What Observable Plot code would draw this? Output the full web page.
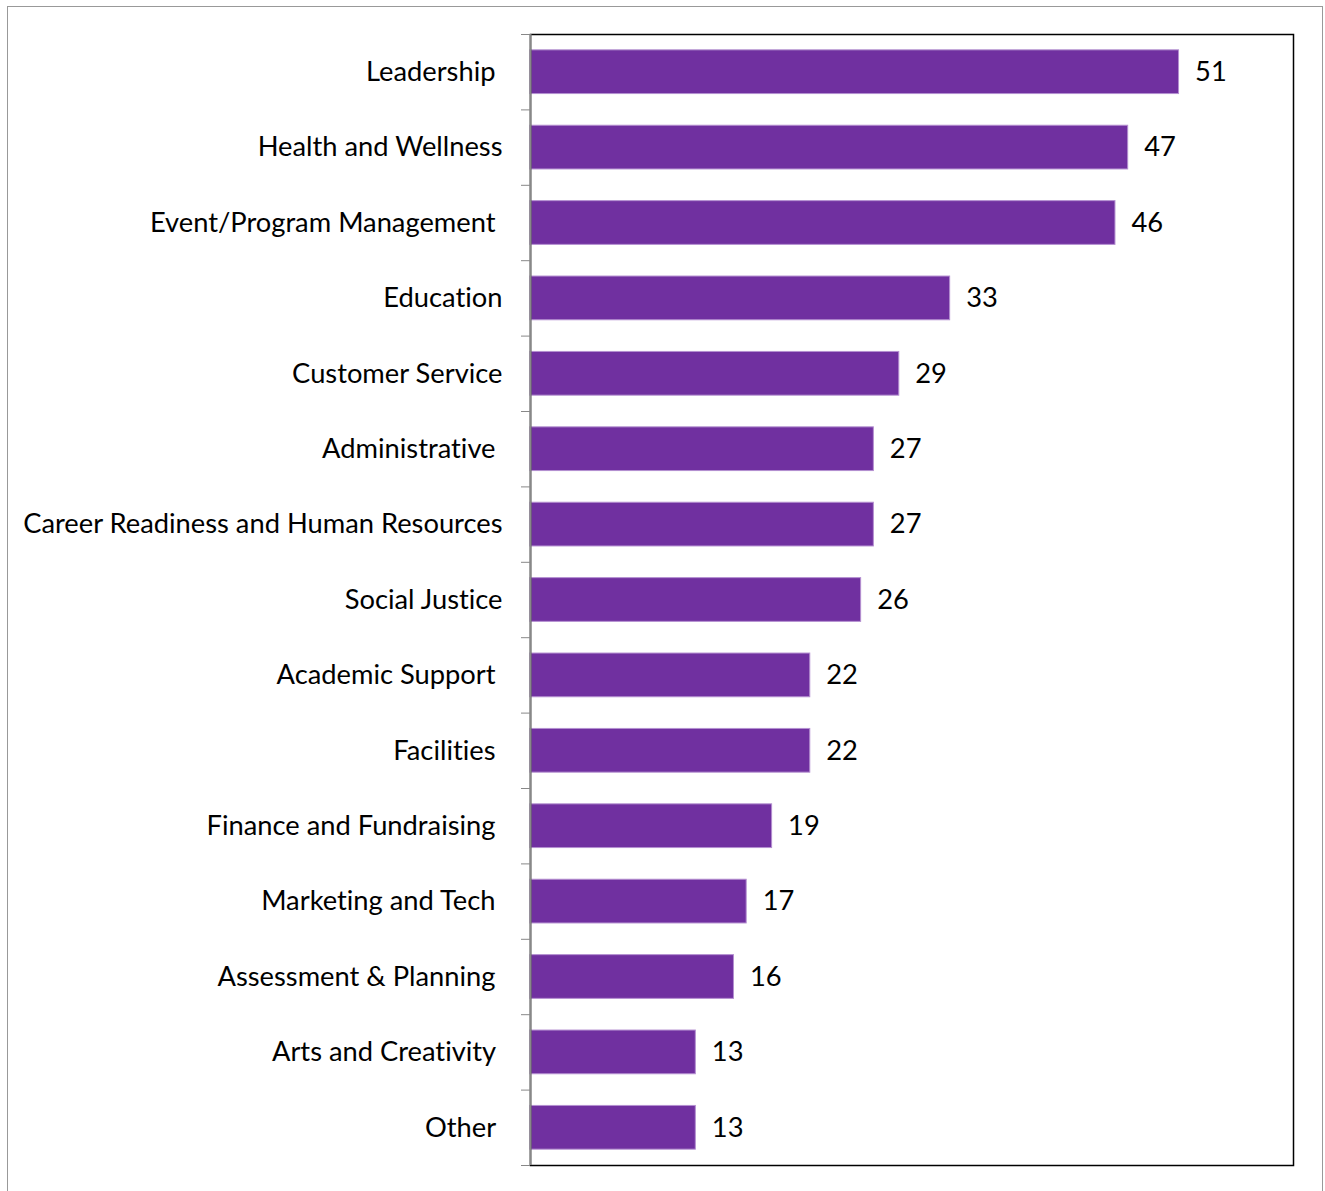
<!DOCTYPE html>
<html>
<head>
<meta charset="utf-8">
<script src="https://cdn.jsdelivr.net/npm/d3@7"></script>
<script src="https://cdn.jsdelivr.net/npm/@observablehq/plot@0.6"></script>
<style>
  body { margin: 0; background: #fff; }
  #chart svg { display: block; font-variant-ligatures: none; }
  #chart svg text { font-variant-ligatures: none; }
</style>
</head>
<body>
<div id="chart"></div>
<script>
const categories = [
  "Leadership ", "Health and Wellness", "Event/Program Management ", "Education",
  "Customer Service", "Administrative ", "Career Readiness and Human Resources",
  "Social Justice", "Academic Support ", "Facilities ", "Finance and Fundraising ",
  "Marketing and Tech ", "Assessment & Planning ", "Arts and Creativity ", "Other "
];
const values = [51, 47, 46, 33, 29, 27, 27, 26, 22, 22, 19, 17, 16, 13, 13];
const xDomain = [0, 60];

const data = categories.map((c, i) => ({category: c, value: values[i]}));

const W = 1325, H = 1191;
const mL = 530, mR = 32, mT = 34, mB = 26;
const step = (H - mT - mB) / categories.length;
const font = "Lato, 'Open Sans', sans-serif";
const fs = 27.3;

const chart = Plot.plot({
  width: W, height: H,
  marginLeft: mL, marginRight: mR, marginTop: mT, marginBottom: mB,
  style: {fontFamily: font, fontSize: fs + "px", color: "#000", background: "#fff"},
  x: {domain: xDomain, axis: null},
  y: {domain: categories, paddingInner: 0.42, paddingOuter: 0.21, round: false, axis: null},
  marks: [
    Plot.frame({stroke: "#999", insetLeft: -(mL - 7), insetTop: -(mT - 6), insetRight: -(mR - 3), insetBottom: -(mB + 10)}),
    Plot.barX(data, {y: "category", x: "value", fill: "#7030A0", stroke: "#b48fd0", strokeWidth: 1}),
    Plot.frame({stroke: "#000", strokeWidth: 1.5}),
    Plot.ruleX([0], {stroke: "#888", strokeWidth: 2}),
    Plot.axisY(categories, {tickSize: 9, tickFormat: () => "", stroke: "#888", label: null, dy: -step / 2}),
    Plot.axisY(categories.slice(-1), {tickSize: 9, tickFormat: () => "", stroke: "#888", label: null, dy: step / 2}),
    Plot.axisY(categories, {tickSize: 0, tickPadding: 28, label: null, fontSize: fs, fill: "#000",
      tickFormat: d => d.replace(/ $/, "\u00A0")}),
    Plot.text(data, {y: "category", x: "value", text: d => String(d.value), textAnchor: "start", dx: 16, fontSize: fs, fill: "#000"})
  ]
});
document.getElementById("chart").appendChild(chart);
</script>
</body>
</html>
